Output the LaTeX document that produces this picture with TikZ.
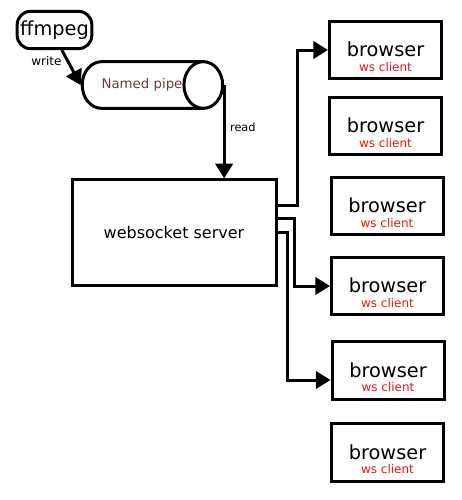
\documentclass[tikz,border=0pt]{standalone}
\usepackage{fontspec}
\setmainfont{DejaVu Sans}
\usepackage{tikz}
\usetikzlibrary{
  shapes.geometric,
  arrows.meta,
  positioning,
  calc
}
\definecolor{PipeBrown}{RGB}{110, 58, 58}
\definecolor{ClientRed}{RGB}{235, 20, 20}
\tikzset{
    thick line/.style={line width=2.25pt},
    big arrow/.style={thick line, -{Triangle[length=11pt, width=13pt]}},
    browser box/.style={draw, thick line, rectangle, minimum width=84pt, minimum height=43pt, align=center, inner sep=0pt},
}
\newcommand{\browsertext}{{\fontsize{14.5}{16}\selectfont\rule{0pt}{21pt}browser}\\[-1pt]{\fontsize{9}{10}\selectfont\color{ClientRed} ws client}}

\begin{document}
\begin{tikzpicture}[x=0.75pt, y=-0.75pt]
                \useasboundingbox (0,0) rectangle (461,500);
                % sources
                \node[draw, thick line, rectangle, rounded corners=10pt, minimum width=56pt, minimum height=28pt, inner sep=0pt] (ffmpeg) at (54.5,30) {\fontsize{14.5}{16}\selectfont ffmpeg};
                \node[draw, thick line, cylinder, aspect=3, minimum width=35pt, minimum height=82pt, inner sep=0pt, text=PipeBrown] (pipe) at (142,85) {\fontsize{10}{12}\selectfont Named pipe\hspace{6pt}};
                \node[draw, thick line, rectangle, minimum width=153pt, minimum height=79pt] (server) at (174,232.5) {\fontsize{12}{14}\selectfont websocket server};
                % clients
                \node[browser box] (b1) at (385.5,50) {\browsertext};
                \node[browser box] (b2) at (385.5,126) {\browsertext};
                \node[browser box] (b3) at (387,206) {\browsertext};
                \node[browser box] (b4) at (387.5,286) {\browsertext};
                \node[browser box] (b5) at (388,370.5) {\browsertext};
                \node[browser box] (b6) at (387.5,452.5) {\browsertext};
                % connectors
                \draw[big arrow] (ffmpeg.290) -- node[pos=0.3, left, font=\fontsize{9}{10}\selectfont] {write} (pipe.west);
                \draw[big arrow] (pipe.east) -- node[pos=0.45, right, font=\fontsize{8.5}{10}\selectfont] {read} (pipe.east |- server.north);
                \draw[big arrow] ($(server.east)+(0,-27)$) -- ++(20,0) |- (b1.west);
                \draw[big arrow] ($(server.east)+(0,-14)$) -- ++(17,0) |- (b4.west);
                \draw[big arrow] (server.east) -- ++(10,0) |- ($(b5.west)+(0,9.5)$);
            \end{tikzpicture}
\end{document}
